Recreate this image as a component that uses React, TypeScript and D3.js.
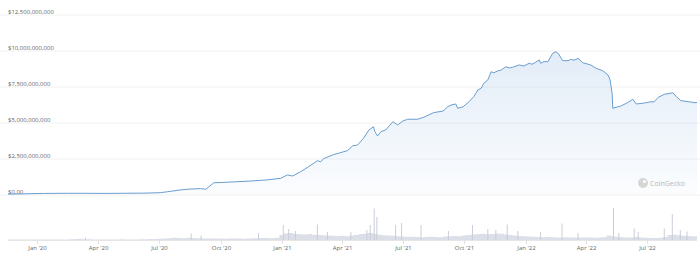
import React from "react";
import * as d3 from "d3";

// Market cap (USD billions)
const capDates = [
  "2019-11-18","2019-12-10","2020-01-10","2020-02-15","2020-03-12","2020-04-05","2020-05-10","2020-06-10",
  "2020-07-03","2020-07-14","2020-08-02","2020-08-15","2020-09-01","2020-09-09","2020-09-21","2020-10-03",
  "2020-10-16","2020-11-15","2020-12-10","2020-12-30","2021-01-09","2021-01-17","2021-01-29","2021-02-10",
  "2021-02-23","2021-02-28","2021-03-04","2021-03-19","2021-03-28","2021-04-09","2021-04-17","2021-04-24",
  "2021-05-03","2021-05-11","2021-05-18","2021-05-20","2021-05-24","2021-05-29","2021-06-05","2021-06-16",
  "2021-06-23","2021-07-01","2021-07-08","2021-07-23","2021-08-01","2021-08-16","2021-08-30","2021-09-06",
  "2021-09-11","2021-09-18","2021-09-21","2021-09-29","2021-10-08","2021-10-15","2021-10-21","2021-10-26",
  "2021-10-30","2021-11-05","2021-11-10","2021-11-14","2021-11-20","2021-11-25","2021-12-02","2021-12-07",
  "2021-12-12","2021-12-17","2021-12-22","2021-12-29","2022-01-06","2022-01-10","2022-01-13","2022-01-21",
  "2022-01-23","2022-01-28","2022-02-03","2022-02-10","2022-02-15","2022-02-19","2022-02-25","2022-03-05",
  "2022-03-09","2022-03-14","2022-03-20","2022-03-27","2022-04-08","2022-04-16","2022-04-26","2022-05-04",
  "2022-05-07","2022-05-10","2022-05-11","2022-05-16","2022-05-23","2022-06-02","2022-06-10","2022-06-15",
  "2022-06-25","2022-07-05","2022-07-12","2022-07-18","2022-07-27","2022-08-09","2022-08-14","2022-08-21",
  "2022-09-01","2022-09-05","2022-09-11","2022-09-14"
];
const capValues = [
  0.06,0.08,0.11,0.12,0.12,0.11,0.12,0.13,
  0.16,0.23,0.35,0.41,0.44,0.40,0.85,0.87,
  0.90,0.97,1.05,1.16,1.39,1.32,1.62,1.97,
  2.38,2.31,2.52,2.80,2.92,3.08,3.42,3.47,
  3.94,4.51,4.74,4.40,4.10,4.40,4.51,5.09,
  4.86,5.14,5.26,5.26,5.40,5.72,5.83,6.13,
  6.25,6.32,6.02,6.13,6.48,6.83,7.29,7.41,
  7.76,7.99,8.56,8.49,8.62,8.68,8.91,8.82,
  8.87,8.95,9.03,8.96,9.15,9.08,9.15,9.38,
  9.15,9.26,9.26,9.84,9.95,9.79,9.33,9.33,
  9.42,9.36,9.49,9.19,9.03,8.80,8.63,8.33,
  7.99,7.06,6.02,6.09,6.18,6.41,6.65,6.32,
  6.37,6.46,6.48,6.78,6.99,7.10,6.83,6.55,
  6.48,6.46,6.41,6.43
];

// Weekly baseline volume (USD millions), weeks starting 2019-11-18
const volWeekStart = "2019-11-18";
const volWeekly = [
  40,40,50,40,40,50,
  50,50,60,60,50,60,60,70,90,120,80,70,60,
  60,60,50,60,60,70,60,60,60,70,80,90,100,
  120,140,180,220,200,180,220,200,180,160,150,160,150,
  140,130,150,140,150,130,160,180,170,190,200,180,220,
  500,650,700,600,580,550,600,520,500,480,450,420,400,
  420,380,450,500,600,650,700,600,520,480,450,420,380,
  350,330,320,300,280,300,320,300,280,350,380,400,380,
  450,500,550,600,620,580,600,650,620,550,500,450,400,
  380,350,320,300,280,300,280,250,260,270,250,240,250,
  260,240,230,250,280,450,350,300,280,260,250,300,240,
  220,200,210,230,300,500,550,480,420,400,380
];

// Daily volume spikes (USD millions)
const spikeDates = [
  "2020-03-13","2020-08-18","2020-09-02","2020-11-27","2021-01-03","2021-01-11","2021-01-21","2021-02-23",
  "2021-03-10","2021-04-14","2021-05-08","2021-05-13","2021-05-19","2021-05-23","2021-06-20","2021-06-29",
  "2021-07-28","2021-09-07","2021-10-13","2021-11-05","2021-11-17","2021-12-04","2021-12-20","2022-01-23",
  "2022-02-24","2022-03-20","2022-05-12","2022-05-20","2022-06-12","2022-06-18","2022-07-27","2022-08-08",
  "2022-08-20","2022-08-30"
];
const spikeValues = [
  250,650,450,700,1500,1100,900,1550,
  800,800,1000,1500,3150,2300,1500,1700,
  1500,900,1500,1100,1000,1550,900,800,
  1650,700,3200,700,1150,800,1150,2600,
  1000,850
];

const yTicks = [0, 2.5, 5, 7.5, 10, 12.5];
const yTickLabels = ["$0.00", "$2,500,000,000", "$5,000,000,000", "$7,500,000,000", "$10,000,000,000", "$12,500,000,000"];
const xTickDates = [
  "2020-01-01","2020-04-01","2020-07-01","2020-10-01","2021-01-01","2021-04-01",
  "2021-07-01","2021-10-01","2022-01-01","2022-04-01","2022-07-01"
];

const parse = d3.utcParse("%Y-%m-%d");

export default function App() {
  const W = 700, H = 260;
  const x = d3.scaleUtc()
    .domain([parse("2019-11-18")!, parse("2022-09-14")!])
    .range([8, 697]);
  const y = d3.scaleLinear().domain([0, 12.5]).range([195, 15]);
  const vy = d3.scaleLinear().domain([0, 4000]).range([240, 200]);

  const cap = capDates.map((d, i) => ({ d: parse(d)!, v: capValues[i] }));
  const line = d3.line<{ d: Date; v: number }>().x(p => x(p.d)).y(p => y(p.v));
  const area = d3.area<{ d: Date; v: number }>().x(p => x(p.d)).y0(y(0)).y1(p => y(p.v));

  const start = parse(volWeekStart)!;
  const weekly = volWeekly.map((v, i) => ({ d: d3.utcDay.offset(start, i * 7), v }));
  weekly.push({ d: parse("2022-09-14")!, v: volWeekly[volWeekly.length - 1] });
  const volArea = d3.area<{ d: Date; v: number }>()
    .x(p => x(p.d)).y0(vy(0)).y1(p => vy(p.v)).curve(d3.curveStepAfter);

  const fmt = d3.utcFormat("%b '%y");
  const font = "'Open Sans', 'Noto Sans', sans-serif";

  return (
    <svg width={W} height={H} style={{ position: "absolute", left: 0, top: 0, background: "#fff" }}
      fontFamily={font}>
      <defs>
        <linearGradient id="capFill" gradientUnits="userSpaceOnUse" x1="0" y1={y(10)} x2="0" y2={y(0)}>
          <stop offset="0" stopColor="#7caadc" stopOpacity={0.22} />
          <stop offset="1" stopColor="#7caadc" stopOpacity={0.03} />
        </linearGradient>
      </defs>
      {yTicks.map((t, i) => (
        <g key={t}>
          <line x1={0} x2={W} y1={y(t)} y2={y(t)} stroke="#f2f2f2" strokeWidth={1} />
          <text x={8} y={y(t) - 1} fontSize={6} fill="#666">{yTickLabels[i]}</text>
        </g>
      ))}
      <path d={area(cap)!} fill="url(#capFill)" />
      <path d={line(cap)!} fill="none" stroke="#6a9ecf" strokeWidth={1} strokeLinejoin="round" />

      <path d={volArea(weekly)!} fill="#dcdfe7" />
      {spikeDates.map((s, i) => {
        const xx = x(parse(s)!);
        return <line key={s} x1={xx} x2={xx} y1={vy(0)} y2={vy(spikeValues[i])} stroke="#c9cdd8" strokeWidth={1} />;
      })}
      <line x1={8} x2={697} y1={240.5} y2={240.5} stroke="#e6e6e6" />
      {xTickDates.map(s => {
        const xx = Math.round(x(parse(s)!)) + 0.5;
        return (
          <g key={s}>
            <line x1={xx} x2={xx} y1={240} y2={244} stroke="#e0e0e0" />
            <text x={xx} y={250} fontSize={6} fill="#666" textAnchor="middle">{fmt(parse(s)!)}</text>
          </g>
        );
      })}

      <g>
        <circle cx={643} cy={183} r={5} fill="#d6d6d6" />
        <circle cx={644.5} cy={181.5} r={1.6} fill="#fff" />
        <text x={650} y={185.5} fontSize={7} fill="#b8b8b8">CoinGecko</text>
      </g>
    </svg>
  );
}
